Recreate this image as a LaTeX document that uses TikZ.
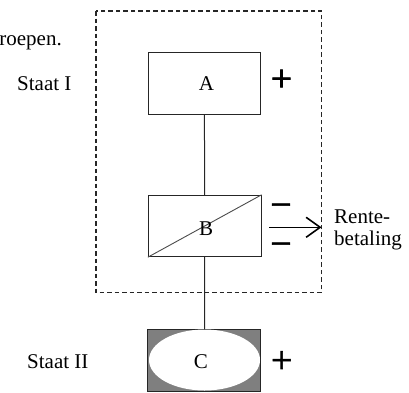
\documentclass[tikz,border=0pt]{standalone}
\usepackage{fontspec}
\setmainfont{Liberation Serif}
\newfontfamily\signfont{Liberation Serif}[FakeBold=1.6]
\usetikzlibrary{arrows.meta,shapes.geometric}
\tikzset{
  txt/.style={inner sep=0pt, font=\fontsize{21}{25}\selectfont},
  sign/.style={inner sep=0pt, anchor=base, font=\signfont\fontsize{38}{40}\selectfont},
  box/.style={draw=black!85, line width=1pt, rectangle, inner sep=0pt, fill=white},
  lbl/.style={inner sep=0pt, font=\fontsize{21}{25}\selectfont},
  conn/.style={draw=black!85, line width=1pt},
  frame/.style={draw=black!85, line width=1.1pt, dash pattern=on 4.5pt off 3pt},
}
\begin{document}
\begin{tikzpicture}[x=1pt,y=-1pt]
\useasboundingbox (0,0) rectangle (409,392);
% dashed frame
\draw[frame] (96,11) rectangle (321.7,292.3);
% boxes
\node[box, minimum width=111.5pt, minimum height=61.5pt,
      label={[lbl, xshift=2pt]center:A}] (A) at (204.4,83.4) {};
\node[box, minimum width=112.7pt, minimum height=61.4pt] (B) at (204.7,226) {};
\draw[black!70, line width=0.9pt] (B.south west) -- (B.north east);
\node[lbl] (Blbl) at (206,229) {B};
\node[box, fill={rgb,255:red,127;green,127;blue,127}, minimum width=113.4pt, minimum height=62pt] (C) at (204,360) {};
\node[ellipse, fill=white, inner sep=0pt, minimum width=111pt, minimum height=61pt] (Cell) at (204.5,360) {};
\node[lbl] (Clbl) at (201,361.5) {C};
% connectors
\draw[conn] (A.south) -- (B.north);
\draw[conn] (B.south) -- (Cell.north);
% signs
\node[sign] (plusA) at (281.5,91.2) {+};
\node[sign] (plusC) at (281.7,372.7) {+};
\node[sign] (minus1) at (281,217.3) {−};
\node[sign] (minus2) at (281,256.3) {−};
% arrow
\coordinate (arrS) at (269,227.3);
\coordinate (arrE) at (321.5,227.3);
\draw[line width=1.6pt, -{Straight Barb[length=14pt,width=20pt,line width=1.6pt]}] (arrS) -- (arrE);
% texts
\node[txt, anchor=base east] (roepen) at (62,45) {roepen.};
\node[txt, anchor=base west] (staat1) at (17,90) {Staat I};
\node[txt, anchor=base west] (staat2) at (27,368) {Staat II};
\node[txt, anchor=base west] (rente) at (334,223) {Rente-};
\node[txt, anchor=base west] (betaling) at (334,245) {betaling};
\end{tikzpicture}
\end{document}
